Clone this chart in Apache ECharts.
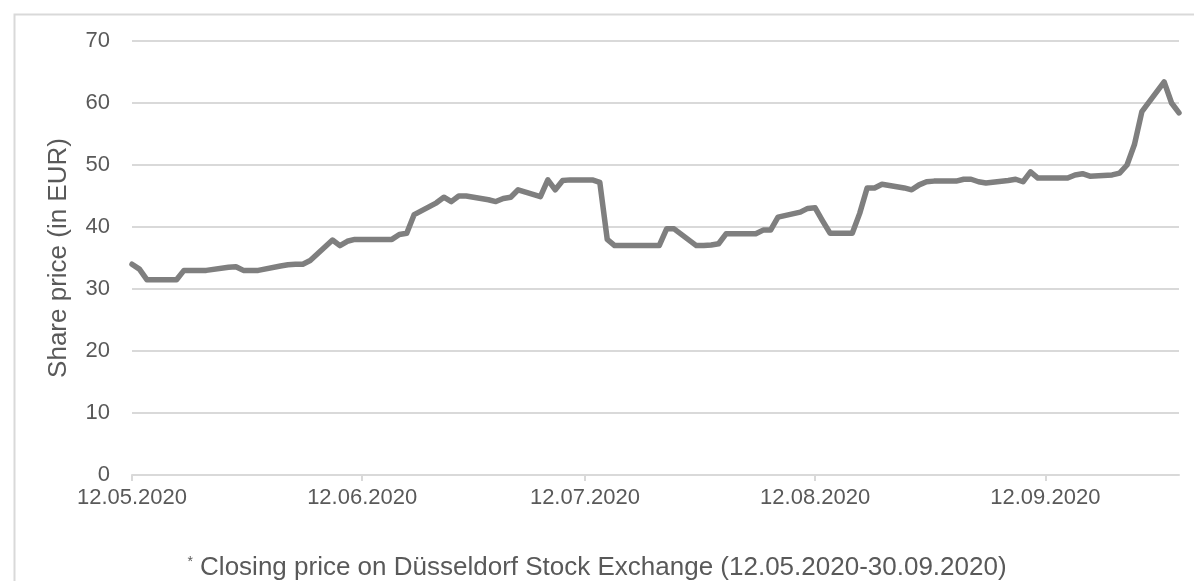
<!DOCTYPE html>
<html>
<head>
<meta charset="utf-8">
<script src="https://cdn.jsdelivr.net/npm/echarts@6/dist/echarts.min.js"></script>
<style>
  html, body { margin: 0; padding: 0; background: #fff; }
  #chart { width: 1194px; height: 581px; }
</style>
</head>
<body>
<div id="chart"></div>
<script>
  // trading days (dd.mm.yyyy)
  var dates = [
    '12.05.2020', '13.05.2020', '14.05.2020', '15.05.2020', '18.05.2020', '19.05.2020', '20.05.2020', '21.05.2020', '22.05.2020',
    '25.05.2020', '26.05.2020', '27.05.2020', '28.05.2020', '29.05.2020',
    '01.06.2020', '02.06.2020', '03.06.2020', '04.06.2020', '05.06.2020', '08.06.2020', '09.06.2020', '10.06.2020', '11.06.2020', '12.06.2020',
    '15.06.2020', '16.06.2020', '17.06.2020', '18.06.2020', '19.06.2020', '22.06.2020', '23.06.2020', '24.06.2020', '25.06.2020', '26.06.2020',
    '29.06.2020', '30.06.2020', '01.07.2020', '02.07.2020', '03.07.2020',
    '06.07.2020', '07.07.2020', '08.07.2020', '09.07.2020', '10.07.2020', '13.07.2020', '14.07.2020', '15.07.2020', '16.07.2020', '17.07.2020',
    '20.07.2020', '21.07.2020', '22.07.2020', '23.07.2020', '24.07.2020', '27.07.2020', '28.07.2020', '29.07.2020', '30.07.2020', '31.07.2020',
    '03.08.2020', '04.08.2020', '05.08.2020', '06.08.2020', '07.08.2020', '10.08.2020', '11.08.2020', '12.08.2020', '13.08.2020', '14.08.2020',
    '17.08.2020', '18.08.2020', '19.08.2020', '20.08.2020', '21.08.2020', '24.08.2020', '25.08.2020', '26.08.2020', '27.08.2020', '28.08.2020',
    '31.08.2020', '01.09.2020', '02.09.2020', '03.09.2020', '04.09.2020', '07.09.2020', '08.09.2020', '09.09.2020', '10.09.2020', '11.09.2020',
    '14.09.2020', '15.09.2020', '16.09.2020', '17.09.2020', '18.09.2020', '21.09.2020', '22.09.2020', '23.09.2020', '24.09.2020', '25.09.2020',
    '28.09.2020', '29.09.2020', '30.09.2020'
  ]
  var prices = [
    34.0, 33.2, 31.5, 31.5, 31.5, 33.0, 33.0, 33.0, 33.0,
    33.5, 33.6, 33.0, 33.0, 33.0,
    33.7, 33.9, 34.0, 34.0, 34.6, 37.9, 37.0, 37.7, 38.0, 38.0,
    38.0, 38.0, 38.8, 39.0, 42.0, 43.9, 44.8, 44.1, 45.0, 45.0,
    44.4, 44.1, 44.6, 44.8, 46.0,
    44.9, 47.6, 46.0, 47.5, 47.6, 47.6, 47.2, 38.0, 37.0, 37.0,
    37.0, 37.0, 37.0, 39.7, 39.7, 37.0, 37.0, 37.1, 37.3, 38.9,
    38.9, 38.9, 39.5, 39.5, 41.6, 42.4, 43.0, 43.1, 41.0, 39.0,
    39.0, 42.2, 46.3, 46.3, 46.9, 46.3, 46.0, 46.8, 47.3, 47.4,
    47.4, 47.7, 47.7, 47.3, 47.1, 47.5, 47.7, 47.3, 48.9, 47.9,
    47.9, 47.9, 48.4, 48.6, 48.2, 48.4, 48.7, 50.0, 53.3, 58.6,
    63.4, 60.0, 58.4
  ]
  var tickDates = ['12.05.2020', '12.06.2020', '12.07.2020', '12.08.2020', '12.09.2020']
  var yTicks = [0, 10, 20, 30, 40, 50, 60, 70]

  function toTime (s) {
    var p = s.split('.')
    return new Date(+p[2], +p[1] - 1, +p[0]).getTime()
  }
  function pad (n) {
    return (n < 10 ? '0' : '') + n
  }
  function fmt (v) {
    var d = new Date(v)
    return pad(d.getDate()) + '.' + pad(d.getMonth() + 1) + '.' + d.getFullYear()
  }

  var seriesData = dates.map(function (d, i) {
    return [toTime(d), prices[i]]
  })
  var tickValues = tickDates.map(toTime)

  var textColor = '#595959'
  var gridColor = '#d9d9d9'
  var font = 'Liberation Sans, Arial, sans-serif'

  var chart = echarts.init(document.getElementById('chart'))
  var option = {
    animation: false,
    grid: {
      left: 132,
      right: 15,
      top: 41,
      bottom: 106
    },
    xAxis: {
      // dates as timestamps on a value axis, ticks on the 12th of each month
      type: 'value',
      min: toTime('12.05.2020'),
      max: toTime('30.09.2020'),
      axisLine: {
        show: true,
        lineStyle: { color: gridColor, width: 2 }
      },
      axisTick: {
        show: true,
        customValues: tickValues,
        length: 6,
        lineStyle: { color: gridColor, width: 2 }
      },
      axisLabel: {
        customValues: tickValues,
        formatter: function (v) {
          return fmt(v)
        },
        color: textColor,
        fontFamily: font,
        fontSize: 22,
        margin: 12,
        showMinLabel: true,
        showMaxLabel: true,
        hideOverlap: false
      },
      splitLine: { show: false }
    },
    yAxis: {
      type: 'value',
      min: yTicks[0],
      max: yTicks[yTicks.length - 1],
      interval: 10,
      name: 'Share price (in EUR)',
      nameLocation: 'middle',
      nameGap: 60,
      nameTextStyle: {
        color: textColor,
        fontFamily: font,
        fontSize: 26
      },
      axisLine: { show: false },
      axisTick: { show: false },
      axisLabel: {
        color: textColor,
        fontFamily: font,
        fontSize: 22,
        margin: 22
      },
      splitLine: {
        lineStyle: { color: gridColor, width: 2 }
      }
    },
    graphic: [
      {
        type: 'rect',
        left: 12,
        top: 12,
        shape: { width: 1200, height: 620 },
        style: { fill: 'none', stroke: gridColor, lineWidth: 2 },
        silent: true
      },
      {
        type: 'text',
        left: 'center',
        top: 555,
        style: {
          text: '{sup|*} Closing price on Düsseldorf Stock Exchange (12.05.2020-30.09.2020)',
          fill: textColor,
          font: '26px ' + font,
          rich: {
            sup: {
              fontSize: 14,
              fontFamily: font,
              fill: textColor,
              verticalAlign: 'top',
              padding: [0, 0, 12, 0]
            }
          }
        }
      }
    ],
    series: [
      {
        type: 'line',
        data: seriesData,
        showSymbol: false,
        symbol: 'none',
        lineStyle: {
          color: '#7f7f7f',
          width: 5.5,
          join: 'round',
          cap: 'round'
        }
      }
    ]
  }
  chart.setOption(option)
</script>
</body>
</html>
